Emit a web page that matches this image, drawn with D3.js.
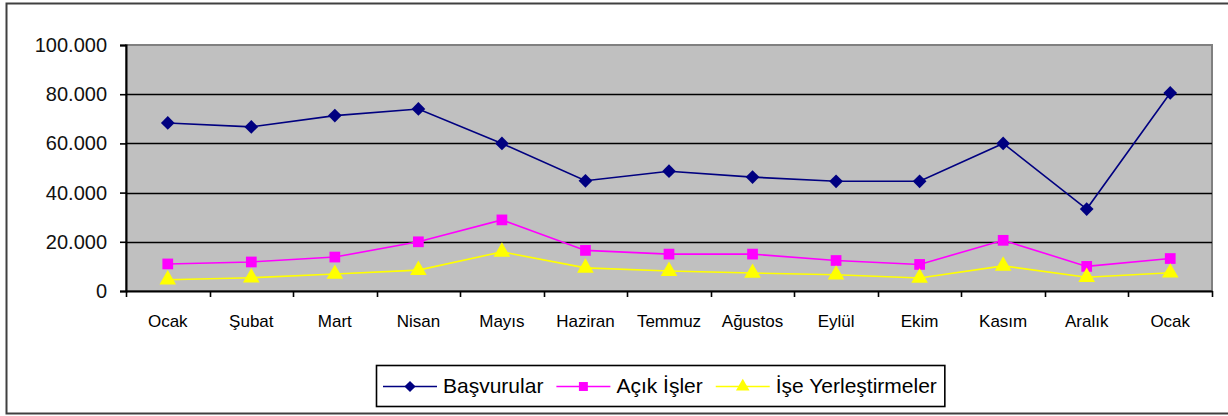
<!DOCTYPE html>
<html><head><meta charset="utf-8">
<script src="https://cdn.jsdelivr.net/npm/d3@7"></script>
<style>body{margin:0;background:#fff}svg{display:block}text{font-family:Arial,"Liberation Sans",sans-serif}</style>
</head><body>
<svg id="c" width="1228" height="416"></svg>
<script>
const categories = ["Ocak","Şubat","Mart","Nisan","Mayıs","Haziran","Temmuz","Ağustos","Eylül","Ekim","Kasım","Aralık","Ocak"];
const basvurular = [68300,66700,71300,74000,60000,44800,48700,46300,44600,44600,60000,33300,80500];
const acikIsler  = [11000,11800,13800,20000,28900,16500,15000,15000,12400,10800,20600,10000,13200];
const iseYerlestirmeler = [4600,5400,6900,8500,15900,9400,8100,7300,6600,5300,10200,5600,7400];
const yTicks = [0,20000,40000,60000,80000,100000];
const seriesNames = ["Başvurular","Açık İşler","İşe Yerleştirmeler"];
const seriesColors = ["#000080","#FF00FF","#FFFF00"];
const seriesShapes = [d3.symbolDiamond2, d3.symbolSquare, d3.symbolTriangle];

const svg = d3.select("#c");
// outer border
svg.append("rect").attr("x",6.5).attr("y",3.5).attr("width",1230).attr("height",410)
  .attr("fill","#fff").attr("stroke","#404040").attr("stroke-width",2);

const L=126, R=1212, T=45, B=291;
const x = d3.scaleBand().domain(d3.range(categories.length)).range([L,R]);
const y = d3.scaleLinear().domain([0,100000]).range([B,T]);

svg.append("rect").attr("x",L).attr("y",T).attr("width",R-L).attr("height",B-T)
  .attr("fill","#C0C0C0").attr("stroke","#808080").attr("stroke-width",2);

// gridlines
svg.append("g").selectAll("line").data(yTicks.filter(d=>d>0 && d<100000)).join("line")
  .attr("x1",L).attr("x2",R).attr("y1",d=>Math.round(y(d))+0.5).attr("y2",d=>Math.round(y(d))+0.5)
  .attr("stroke","#000").attr("stroke-width",1.6);

const fmt = d => d3.format(",")(d).replace(/,/g,".");
const yAxis = d3.axisLeft(y).tickValues(yTicks).tickFormat(fmt).tickSize(6).tickPadding(13);
const gy = svg.append("g").attr("transform",`translate(${L},0)`).call(yAxis);
gy.select(".domain").attr("stroke","#000").attr("stroke-width",2);
gy.selectAll(".tick line").attr("stroke","#000").attr("stroke-width",1.6);
gy.selectAll("text").attr("font-size",20).attr("fill","#111");

const xAxis = d3.axisBottom(x).tickSize(0).tickFormat(i=>categories[i]).tickPadding(24);
const gx = svg.append("g").attr("transform",`translate(0,${B})`).call(xAxis);
gx.select(".domain").attr("stroke","#000").attr("stroke-width",2);
gx.selectAll("text").attr("font-size",17).attr("fill","#000");
// tick marks at category boundaries
svg.append("g").selectAll("line").data(d3.range(categories.length+1)).join("line")
  .attr("x1",i=>Math.round(L + i*x.step())+0.5).attr("x2",i=>Math.round(L + i*x.step())+0.5)
  .attr("y1",B).attr("y2",B+6).attr("stroke","#000").attr("stroke-width",1.6);

const allSeries = [basvurular, acikIsler, iseYerlestirmeler];
const cx = i => x(i) + x.bandwidth()/2;
const line = d3.line().x((d,i)=>cx(i)).y(d=>y(d));
allSeries.forEach((s,k)=>{
  svg.append("path").datum(s).attr("d",line).attr("fill","none")
    .attr("stroke",seriesColors[k]).attr("stroke-width",1.6);
});
const sizes=[120,115,120];
allSeries.forEach((s,k)=>{
  svg.append("g").selectAll("path").data(s).join("path")
    .attr("transform",(d,i)=>`translate(${cx(i)},${y(d)})`)
    .attr("d",d3.symbol().type(seriesShapes[k]).size(sizes[k]))
    .attr("fill",seriesColors[k]);
});

// legend
const lg = svg.append("g");
const box = lg.append("rect").attr("x",376.5).attr("y",365.5).attr("height",41)
  .attr("fill","#fff").attr("stroke","#000").attr("stroke-width",1.6);
let cur = 383;
seriesNames.forEach((n,k)=>{
  const g = lg.append("g").attr("transform",`translate(${cur},386.5)`);
  g.append("line").attr("x1",0).attr("x2",54).attr("stroke",seriesColors[k]).attr("stroke-width",1.6);
  g.append("path").attr("transform","translate(27,0)").attr("d",d3.symbol().type(seriesShapes[k]).size(80)).attr("fill",seriesColors[k]);
  const t = g.append("text").attr("x",60).attr("y",6).attr("font-size",21).attr("fill","#000").text(n);
  cur += 60 + t.node().getComputedTextLength() + 13;
});
box.attr("width", cur - 13 + 8 - 376.5);
</script>
</body></html>
